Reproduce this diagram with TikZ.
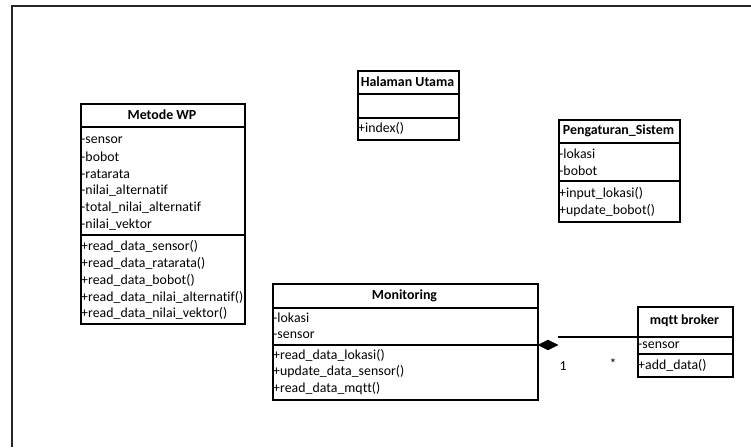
\documentclass[tikz,border=0pt]{standalone}
\usepackage{fontspec}
\setmainfont{Carlito}[Ligatures=NoCommon]
\newfontfamily\memberfont{Carlito}[Ligatures=NoCommon, LetterSpace=0.3]
\usetikzlibrary{shapes.geometric}
\begin{document}
\begin{tikzpicture}[x=1pt,y=-1pt,
  every node/.style={font=\fontsize{14}{17}\selectfont},
  clsbox/.style={draw, line width=1.8pt, rectangle, anchor=north west, inner sep=0pt},
  divline/.style={line width=1.6pt},
  ctitle/.style={font=\fontsize{13.9}{17}\selectfont\bfseries, inner sep=0pt},
  member/.style={anchor=west, inner sep=0pt, font=\fontsize{13.8}{17}\memberfont},
  assoc/.style={line width=1.6pt},
  composite/.style={diamond, fill=black, draw=black, inner sep=0pt, minimum width=20pt, minimum height=10pt},
  mult/.style={inner sep=0pt, font=\fontsize{13.8}{17}\memberfont}]
\useasboundingbox (0,0) rectangle (751,447);

% page frame
\draw[line width=1.3pt, black!85] (12,447) -- (12,6) -- (751,6);

% ---------- Metode WP ----------
\node[clsbox, minimum width=164pt, minimum height=220pt] (wp) at (80,103) {};
\draw[divline] (wp.west |- 0,127) -- (wp.east |- 0,127);
\draw[divline] (wp.west |- 0,235) -- (wp.east |- 0,235);
\node[ctitle] (wpt) at (162,115) {Metode WP};
\node[member] (wpa1) at (81,140) {-sensor};
\node[member] (wpa2) at (81,157) {-bobot};
\node[member] (wpa3) at (81,174) {-ratarata};
\node[member] (wpa4) at (81,191) {-nilai\_alternatif};
\node[member] (wpa5) at (81,208) {-total\_nilai\_alternatif};
\node[member] (wpa6) at (81,225) {-nilai\_vektor};
\node[member] (wpm1) at (81,246) {+read\_data\_sensor()};
\node[member] (wpm2) at (81,263) {+read\_data\_ratarata()};
\node[member] (wpm3) at (81,280) {+read\_data\_bobot()};
\node[member] (wpm4) at (81,297) {+read\_data\_nilai\_alternatif()};
\node[member] (wpm5) at (81,313) {+read\_data\_nilai\_vektor()};

% ---------- Halaman Utama ----------
\node[clsbox, minimum width=101pt, minimum height=69pt] (hu) at (357,70) {};
\draw[divline] (hu.west |- 0,94) -- (hu.east |- 0,94);
\draw[divline] (hu.west |- 0,118) -- (hu.east |- 0,118);
\node[ctitle] (hut) at (407.5,82) {Halaman Utama};
\node[member] (hum1) at (358,128) {+index()};

% ---------- Pengaturan_Sistem ----------
\node[clsbox, minimum width=121pt, minimum height=102pt] (ps) at (558,119) {};
\draw[divline] (ps.west |- 0,143) -- (ps.east |- 0,143);
\draw[divline] (ps.west |- 0,181) -- (ps.east |- 0,181);
\node[ctitle] (pst) at (618.5,131) {Pengaturan\_Sistem};
\node[member] (psa1) at (559,154) {-lokasi};
\node[member] (psa2) at (559,171) {-bobot};
\node[member] (psm1) at (559,194) {+input\_lokasi()};
\node[member] (psm2) at (559,211) {+update\_bobot()};

% ---------- Monitoring ----------
\node[clsbox, minimum width=265pt, minimum height=116pt] (mon) at (272,283) {};
\draw[divline] (mon.west |- 0,308) -- (mon.east |- 0,308);
\draw[divline] (mon.west |- 0,345) -- (mon.east |- 0,345);
\node[ctitle] (mont) at (404.5,296) {Monitoring};
\node[member] (mona1) at (273,318) {-lokasi};
\node[member] (mona2) at (273,335) {-sensor};
\node[member] (monm1) at (273,355) {+read\_data\_lokasi()};
\node[member] (monm2) at (273,372) {+update\_data\_sensor()};
\node[member] (monm3) at (273,389) {+read\_data\_mqtt()};

% ---------- mqtt broker ----------
\node[clsbox, minimum width=95pt, minimum height=70pt] (mq) at (637,306) {};
\draw[divline] (mq.west |- 0,337) -- (mq.east |- 0,337);
\draw[divline] (mq.west |- 0,354) -- (mq.east |- 0,354);
\node[ctitle] (mqt) at (684.5,321) {mqtt broker};
\node[member] (mqa1) at (638,345) {-sensor};
\node[member] (mqm1) at (638,365) {+add\_data()};

% ---------- composition Monitoring <>-- mqtt broker ----------
\node[composite] (comp) at (548,345) {};
\coordinate (compend) at (558,337);
\draw[assoc] (compend) -- (compend -| mq.west);
\node[mult] (m1) at (563,366) {1};
\node[mult] (m2) at (613,364) {*};
\end{tikzpicture}
\end{document}
